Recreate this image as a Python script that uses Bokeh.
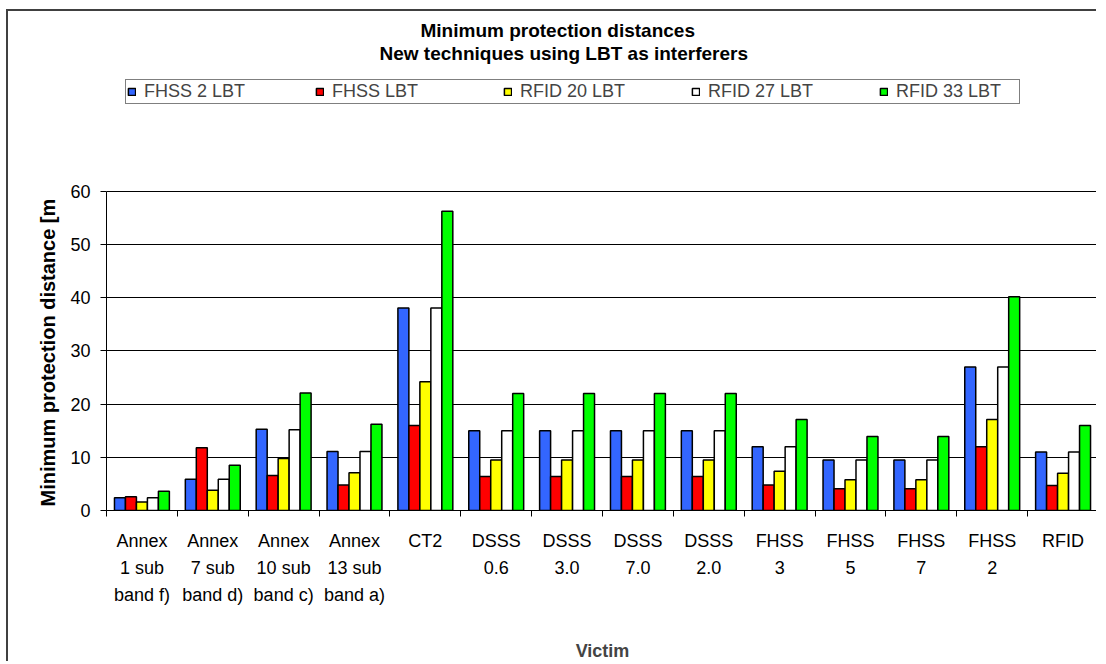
from bokeh.plotting import figure
from bokeh.models import FixedTicker, Legend, LegendItem, Title, ColumnDataSource
from bokeh.embed import file_html
from bokeh.resources import INLINE

categories = ["Annex\n1 sub\nband f)", "Annex\n7 sub\nband d)", "Annex\n10 sub\nband c)",
              "Annex\n13 sub\nband a)", "CT2", "DSSS\n0.6", "DSSS\n3.0", "DSSS\n7.0",
              "DSSS\n2.0", "FHSS\n3", "FHSS\n5", "FHSS\n7", "FHSS\n2", "RFID"]
series_names = ["FHSS 2 LBT", "FHSS LBT", "RFID 20 LBT", "RFID 27 LBT", "RFID 33 LBT"]
fhss2_lbt = [2.4, 5.9, 15.3, 11.1, 38.1, 15.0, 15.0, 15.0, 15.0, 12.0, 9.5, 9.5, 27.0, 11.0]
fhss_lbt = [2.6, 11.8, 6.6, 4.8, 16.0, 6.4, 6.4, 6.4, 6.4, 4.8, 4.1, 4.1, 12.0, 4.7]
rfid20_lbt = [1.6, 3.8, 9.8, 7.1, 24.2, 9.5, 9.5, 9.5, 9.5, 7.4, 5.8, 5.8, 17.1, 7.0]
rfid27_lbt = [2.4, 5.9, 15.2, 11.1, 38.1, 15.0, 15.0, 15.0, 15.0, 12.0, 9.5, 9.5, 27.0, 11.0]
rfid33_lbt = [3.6, 8.5, 22.1, 16.2, 56.3, 22.0, 22.0, 22.0, 22.0, 17.1, 13.9, 13.9, 40.2, 16.0]
y_ticks = [0, 10, 20, 30, 40, 50, 60]

series = [fhss2_lbt, fhss_lbt, rfid20_lbt, rfid27_lbt, rfid33_lbt]
colors = ["#3366FF", "#FF0000", "#FFFF00", "#FFFFFF", "#00FF00"]
FONT = "Liberation Sans"

n = len(categories)
centers = [i + 0.5 for i in range(n)]
bar_w = 0.155
offsets = [-2 * bar_w, -bar_w, 0.0, bar_w, 2 * bar_w]

# plot area extends above the 60 line to host the legend; axis line is bounded to 0..60
Y_TOP = 82.75

p = figure(width=1090, height=652, x_range=(0, n), y_range=(0, Y_TOP),
           output_backend="svg", toolbar_location=None, title=None,
           min_border_left=98, min_border_right=0, min_border_top=59, min_border_bottom=151,
           styles={"margin-left": "6px", "margin-top": "9px",
                   "border-left": "2px solid #404040", "border-top": "2px solid #404040"})
p.outline_line_color = None
p.background_fill_color = "white"
p.border_fill_color = "white"

# horizontal gridlines at the y ticks (drawn beneath the bars)
p.xgrid.grid_line_color = None
p.ygrid.grid_line_color = None
p.hspan(y=y_ticks, line_color="black", line_width=1)

renderers = []
for name, vals, col, off in zip(series_names, series, colors, offsets):
    src = ColumnDataSource(dict(x=[c + off for c in centers], top=vals))
    r = p.vbar(x="x", top="top", width=bar_w, bottom=0, source=src,
               fill_color=col, line_color="black", line_width=1.5)
    renderers.append((name, r))

# axes
p.xaxis.ticker = FixedTicker(ticks=centers, minor_ticks=list(range(n + 1)))
p.xaxis.major_label_overrides = {c: lab for c, lab in zip(centers, categories)}
p.xaxis.major_tick_line_color = None
p.xaxis.major_tick_out = 0
p.xaxis.major_tick_in = 0
p.xaxis.minor_tick_out = 6
p.xaxis.minor_tick_in = 0
p.xaxis.minor_tick_line_color = "black"
p.xaxis.major_label_standoff = 14
p.xaxis.major_label_text_font = FONT
p.xaxis.major_label_text_font_size = "18px"
p.xaxis.major_label_text_color = "black"
p.xaxis.major_label_text_line_height = 1.35
p.xaxis.axis_label = "Victim"
p.xaxis.axis_label_text_font = FONT
p.xaxis.axis_label_text_font_size = "18px"
p.xaxis.axis_label_text_font_style = "bold"
p.xaxis.axis_label_standoff = 33
p.xaxis.axis_line_color = "black"

p.yaxis.ticker = FixedTicker(ticks=y_ticks)
p.yaxis.bounds = (0, 60)
p.yaxis.minor_tick_line_color = None
p.yaxis.major_tick_out = 6
p.yaxis.major_tick_in = 0
p.yaxis.major_tick_line_color = "black"
p.yaxis.major_label_standoff = 10
p.yaxis.major_label_text_font = FONT
p.yaxis.major_label_text_font_size = "18px"
p.yaxis.major_label_text_color = "black"
p.yaxis.axis_line_color = "black"

# y axis title, anchored at the bottom of the plot area like the reference
ytitle = Title(text="Minimum protection distance [m", align="left", offset=4,
               text_font=FONT, text_font_size="20px", text_font_style="bold",
               text_color="black", standoff=18)
p.add_layout(ytitle, "left")

legend = Legend(items=[LegendItem(label=nm, renderers=[r]) for nm, r in renderers],
                orientation="horizontal", location=(19, 406), margin=0, padding=1,
                glyph_width=9, glyph_height=9, label_standoff=8, label_width=122,
                label_height=20, spacing=49,
                label_text_font=FONT, label_text_font_size="18px",
                border_line_color="black", border_line_width=1,
                background_fill_color="white")
p.add_layout(legend)

t2 = Title(text="New techniques using LBT as interferers", align="left", offset=273,
           text_font=FONT, text_font_size="19px", text_font_style="bold",
           text_color="black", standoff=13)
t1 = Title(text="Minimum protection distances", align="left", offset=314,
           text_font=FONT, text_font_size="19px", text_font_style="bold",
           text_color="black", standoff=0)
try:
    t1.standoff = -12
except ValueError:
    t1.standoff = 0
p.add_layout(t2, "above")
p.add_layout(t1, "above")

open("out.html", "w").write(file_html(p, INLINE))
